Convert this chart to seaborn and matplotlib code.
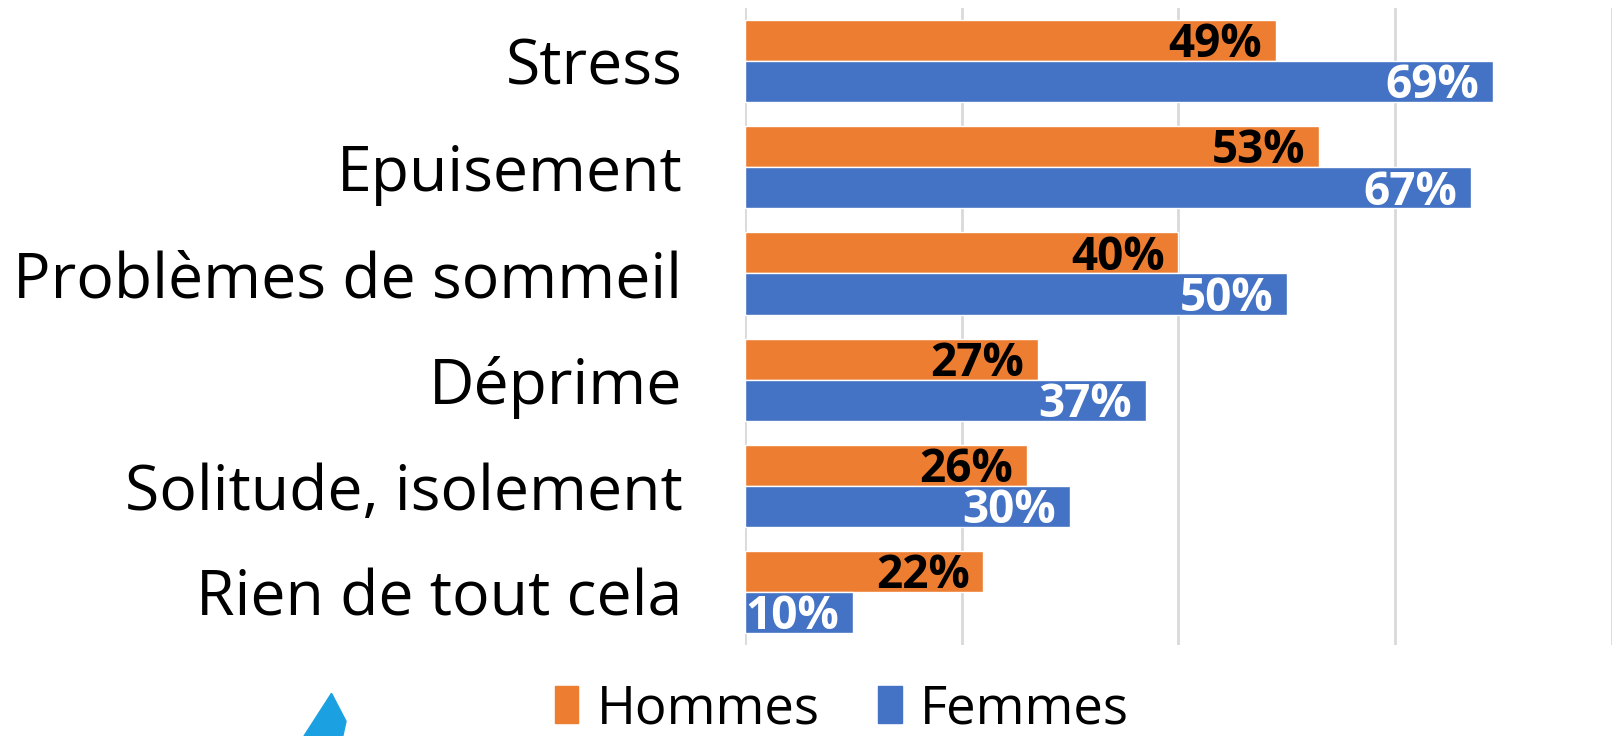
#!/usr/bin/env python3

# Import libraries
import numpy as np
import pandas as pd
import matplotlib.pyplot as plt
import matplotlib.patches as mpatches
import seaborn as sns

# data
categories = ['Stress', 'Epuisement', 'Problèmes de sommeil', 'Déprime',
              'Solitude, isolement', 'Rien de tout cela']
hommes = [49, 53, 40, 27, 26, 22]
femmes = [69, 67, 50, 37, 30, 10]
groups = ['Hommes', 'Femmes']
colors = ['#ED7D31', '#4472C4']

df = pd.DataFrame({
    'cat': categories * 2,
    'val': hommes + femmes,
    'grp': [groups[0]] * len(categories) + [groups[1]] * len(categories),
})

sns.set_style('white')
plt.rcParams['font.family'] = ['Open Sans', 'DejaVu Sans']

fig = plt.figure(figsize=(16.17, 7.36), dpi=100)
ax = fig.add_axes([0.4607, 0.1236, 0.5362, 0.8654])

sns.barplot(data=df, y='cat', x='val', hue='grp', orient='h',
            palette=colors, saturation=1, width=0.775, ax=ax,
            legend=False, order=categories, hue_order=groups)

ax.set_xlim(0, 80)
ax.set_ylim(5.5, -0.5)
ax.set_xticks([0, 20, 40, 60, 80])
ax.set_xticklabels([])
ax.xaxis.grid(True, color='#D9D9D9', lw=2)
ax.set_axisbelow(True)
ax.set(xlabel='', ylabel='')
ax.tick_params(axis='y', length=0, pad=45, labelsize=45, labelcolor='black')
ax.tick_params(axis='x', length=0)
sns.despine(ax=ax, left=True, bottom=True)

# value labels inside bar ends
txt_colors = ['black', 'white']
for cont, vals, tc in zip(ax.containers, [hommes, femmes], txt_colors):
    for bar, v in zip(cont, vals):
        y = bar.get_y() + bar.get_height() / 2
        ax.annotate(f'{v}%', (v, y), xytext=(-10, -3), textcoords='offset points',
                    ha='right', va='center', fontsize=33, fontweight='bold',
                    color=tc)

handles = [mpatches.Patch(color=c, label=g) for c, g in zip(colors, groups)]
fig.legend(handles=handles, loc='lower left', bbox_to_anchor=(0.343, 0.0),
           ncol=2, frameon=False, fontsize=38, handlelength=0.45,
           handleheight=0.7, handletextpad=0.35, columnspacing=1.1,
           borderaxespad=0, borderpad=0, labelcolor='black')

# logo fragment bottom-left
fig.patches.append(mpatches.Polygon([[0.188, 0.0], [0.205, 0.058], [0.214, 0.02], [0.212, 0.0]],
                                    closed=True, transform=fig.transFigure,
                                    color='#1BA1E2'))

fig.savefig('out.png', dpi=100)
